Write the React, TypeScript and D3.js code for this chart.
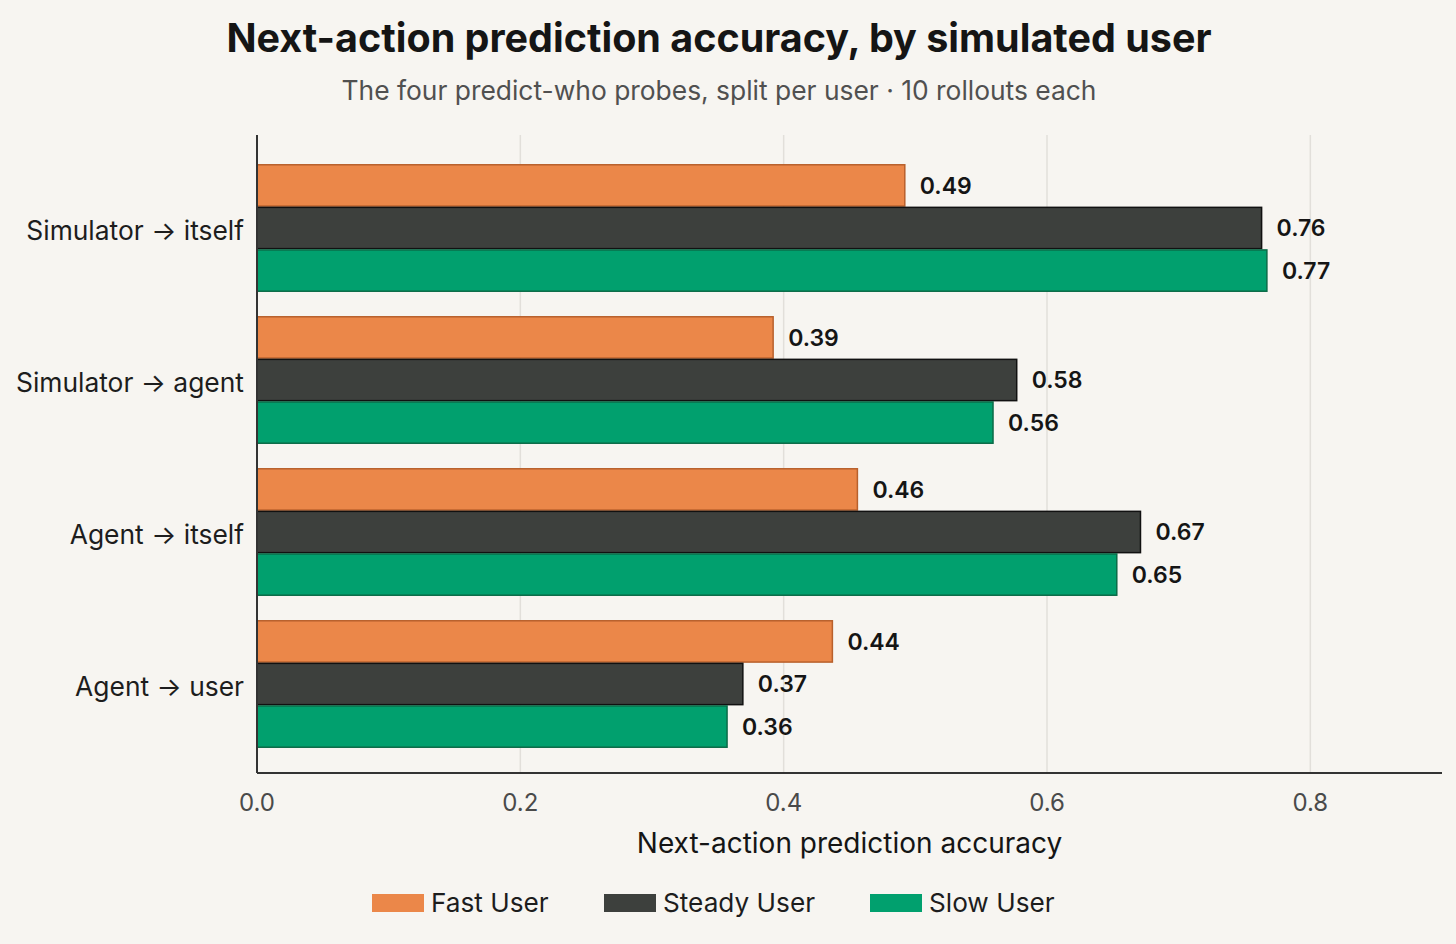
import React, { useEffect, useRef } from 'react';
import * as d3 from 'd3';

const categories = ['Simulator → itself', 'Simulator → agent', 'Agent → itself', 'Agent → user'];
const seriesNames = ['Fast User', 'Steady User', 'Slow User'];
const fastUser = [0.492, 0.392, 0.456, 0.437];
const steadyUser = [0.763, 0.577, 0.671, 0.369];
const slowUser = [0.767, 0.559, 0.653, 0.357];
const xTicks = [0, 0.2, 0.4, 0.6, 0.8];

const fills = ['#eb8749', '#3d403d', '#01a06e'];
const strokes = ['#b8602c', '#111111', '#0b6b48'];

const W = 1456;
const H = 944;
const font = 'Inter, "Noto Sans", sans-serif';

export default function App() {
    const ref = useRef<SVGSVGElement>(null);

    useEffect(() => {
        const svg = d3.select(ref.current);
        svg.selectAll('*').remove();

        const margin = { top: 135, right: 14, bottom: 171, left: 257 };
        const x = d3.scaleLinear().domain([0, 0.9]).range([margin.left, W - margin.right]);
        const y = d3.scaleBand<string>().domain(categories).range([152, 760]).padding(0);
        const inner = d3.scaleBand<string>().domain(seriesNames).range([0, y.bandwidth()]).paddingInner(0.03).paddingOuter(0.3);

        svg.append('rect').attr('width', W).attr('height', H).attr('fill', '#f7f5f1');

        // titles
        svg.append('text').attr('x', 719).attr('y', 52).attr('text-anchor', 'middle')
            .attr('font-family', font).attr('font-size', 39.5).attr('font-weight', 700).attr('fill', '#151515')
            .text('Next-action prediction accuracy, by simulated user');
        svg.append('text').attr('x', 719).attr('y', 100).attr('text-anchor', 'middle')
            .attr('font-family', font).attr('font-size', 26.4).attr('fill', '#505050')
            .text('The four predict-who probes, split per user · 10 rollouts each');

        // gridlines
        svg.append('g').selectAll('line').data(xTicks.filter(t => t > 0)).join('line')
            .attr('x1', d => x(d)).attr('x2', d => x(d))
            .attr('y1', margin.top).attr('y2', H - margin.bottom)
            .attr('stroke', '#e2dfda').attr('stroke-width', 1.5);

        // bars
        const series = [fastUser, steadyUser, slowUser];
        const rows = categories.flatMap((c, i) => seriesNames.map((s, j) => ({ c, s, j, v: series[j][i] })));
        const g = svg.append('g');
        g.selectAll('rect').data(rows).join('rect')
            .attr('x', x(0))
            .attr('y', d => (y(d.c) as number) + (inner(d.s) as number))
            .attr('width', d => x(d.v) - x(0))
            .attr('height', inner.bandwidth())
            .attr('fill', d => fills[d.j])
            .attr('stroke', d => strokes[d.j])
            .attr('stroke-width', 1.5);

        g.selectAll('text').data(rows).join('text')
            .attr('x', d => x(d.v) + 15)
            .attr('y', d => (y(d.c) as number) + (inner(d.s) as number) + inner.bandwidth() / 2)
            .attr('dy', '0.36em')
            .attr('font-family', font).attr('font-size', 23).attr('font-weight', 600).attr('fill', '#151515')
            .text(d => d.v.toFixed(2));

        // y labels
        svg.append('g').selectAll('text').data(categories).join('text')
            .attr('x', margin.left - 13)
            .attr('y', d => (y(d) as number) + y.bandwidth() / 2 + 2)
            .attr('dy', '0.36em')
            .attr('text-anchor', 'end')
            .attr('font-family', font).attr('font-size', 26.4).attr('fill', '#1d1d1d')
            .text(d => d);

        // axes lines
        svg.append('line').attr('x1', x(0)).attr('x2', x(0)).attr('y1', margin.top).attr('y2', H - margin.bottom)
            .attr('stroke', '#333').attr('stroke-width', 2);
        svg.append('line').attr('x1', x(0)).attr('x2', W - margin.right).attr('y1', H - margin.bottom).attr('y2', H - margin.bottom)
            .attr('stroke', '#333').attr('stroke-width', 2);

        // x tick labels
        svg.append('g').selectAll('text').data(xTicks).join('text')
            .attr('x', d => x(d)).attr('y', 811).attr('text-anchor', 'middle')
            .attr('font-family', font).attr('font-size', 24).attr('fill', '#4a4a4a')
            .text(d => d3.format('.1f')(d));

        svg.append('text').attr('x', (x(0) + W - margin.right) / 2).attr('y', 853).attr('text-anchor', 'middle')
            .attr('font-family', font).attr('font-size', 28).attr('fill', '#151515')
            .text('Next-action prediction accuracy');

        // legend
        const legendX = [372, 604, 870];
        const lg = svg.append('g').selectAll('g').data(seriesNames).join('g')
            .attr('transform', (d, i) => `translate(${legendX[i]},894)`);
        lg.append('rect').attr('width', 52).attr('height', 18).attr('fill', (d, i) => fills[i]);
        lg.append('text').attr('x', 59).attr('y', 9).attr('dy', '0.36em')
            .attr('font-family', font).attr('font-size', 26.2).attr('fill', '#1d1d1d')
            .text(d => d);
    }, []);

    return <svg ref={ref} width={W} height={H} style={{ position: 'absolute', left: 0, top: 0 }}></svg>;
}
